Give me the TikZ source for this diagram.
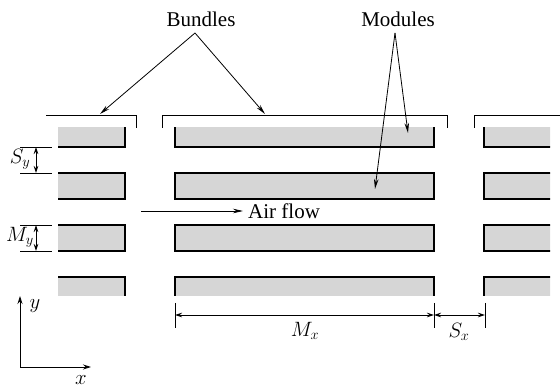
\documentclass[tikz,border=0pt]{standalone}
\usepackage{fontspec}
\setmainfont{Liberation Serif}
\usetikzlibrary{arrows.meta}
\begin{document}
\begin{tikzpicture}[x=1pt,y=-1pt,
  module/.style={fill={rgb,255:red,214;green,214;blue,214},draw=black,line width=1.2pt},
  thin/.style={draw=black,line width=0.8pt},
  ptr/.style={thin,-{Stealth[length=10pt,width=4.5pt]}},
  dim/.style={thin,{Stealth[length=7pt,width=4.5pt]}-{Stealth[length=7pt,width=4.5pt]}},
  word/.style={font=\fontsize{21}{24}\selectfont,inner sep=0pt},
  sym/.style={font=\fontsize{21}{24}\selectfont,inner sep=0pt}]
\useasboundingbox (0,0) rectangle (560,390);
% modules (cut-away)
\begin{scope}
  \clip (58,128) rectangle (550,296);
  \foreach \y in {121,173,225,277}{
    \foreach \x in {-134,175,484}{
      \draw[module] (\x,\y) rectangle ++(259,26);
    }
  }
\end{scope}
% bundle brackets
\draw[thin] (46,115) -- (136,115) -- (136,128);
\draw[thin] (162,128) -- (162,115) -- (447,115) -- (447,128);
\draw[thin] (474,128) -- (474,115) -- (560,115);
% S_y and M_y extension lines
\draw[thin] (20,147) -- (52,147);
\draw[thin] (20,173) -- (52,173);
\draw[thin] (20,225) -- (52,225);
\draw[thin] (20,251) -- (52,251);
\coordinate (sya) at (36,147); \coordinate (syb) at (36,173);
\coordinate (mya) at (36,225); \coordinate (myb) at (36,251);
\draw[dim] (sya) -- (syb);
\draw[dim] (mya) -- (myb);
\node[sym] (Sy) at (20,159) {$S_y$};
\node[sym] (My) at (20,237) {$M_y$};
% M_x and S_x
\draw[thin] (175,303) -- (175,328);
\draw[thin] (434,303) -- (434,328);
\draw[thin] (485,303) -- (485,328);
\coordinate (mxa) at (175,315); \coordinate (mxb) at (434,315);
\coordinate (sxb) at (485,315);
\draw[dim] (mxa) -- (mxb);
\draw[dim] (mxb) -- (sxb);
\node[sym] (Mx) at (305,331) {$M_x$};
\node[sym] (Sx) at (459,332) {$S_x$};
% air flow
\coordinate (af) at (141,211);
\node[word,anchor=west] (air) at (248,211) {Air flow};
\draw[ptr,shorten >=5pt] (af) -- (air.west);
% labels with pointers
\node[word] (bund) at (201,19) {Bundles};
\node[word] (mod) at (398,19) {Modules};
\coordinate (bapex) at (195,33);
\coordinate (mapex) at (395,33);
\draw[ptr] (bapex) -- (100,114);
\draw[ptr] (bapex) -- (265,114);
\draw[ptr] (mapex) -- (408,133);
\draw[ptr] (mapex) -- (375,189);
% axes
\coordinate (o) at (20,367);
\coordinate (ytip) at (20,296);
\coordinate (xtip) at (91,367);
\draw[thin,-{Stealth[length=8pt,width=5pt]}] (o) -- (ytip);
\draw[thin,-{Stealth[length=8pt,width=5pt]}] (o) -- (xtip);
\node[sym] (ylab) at (35,306) {$y$};
\node[sym] (xlab) at (81,380) {$x$};
\end{tikzpicture}
\end{document}
